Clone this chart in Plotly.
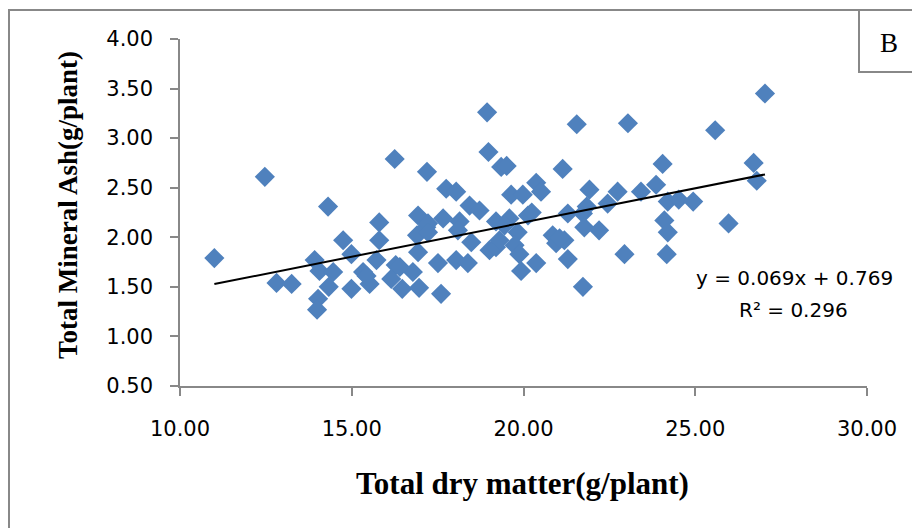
import numpy as np
import plotly.graph_objects as go

# ---- data ----
dry_matter = [
    11.00, 12.47, 12.81, 13.25, 13.92, 14.06, 14.46, 14.33, 14.02, 13.99,
    14.75, 14.99, 14.99, 15.80, 15.80, 15.72, 15.33, 15.52, 15.43, 16.28,
    16.15, 16.47, 16.78, 16.93, 16.90, 16.93, 16.96, 17.17, 14.31, 16.25,
    17.75, 18.04, 17.22, 17.66, 18.14, 18.43, 18.72, 17.22, 16.40, 17.60,
    17.51, 18.04, 18.38, 18.09, 18.48, 19.01, 19.20, 19.20, 19.59, 19.64,
    19.98, 20.37, 20.51, 20.13, 19.83, 19.74, 19.88, 19.93, 20.37, 19.30,
    20.85, 20.95, 21.19, 21.29, 21.29, 21.73, 21.77, 22.20, 21.92, 22.45,
    22.74, 23.42, 22.94, 21.73, 18.94, 21.55, 23.04, 18.98, 19.35, 19.51,
    21.14, 17.19, 27.03, 25.58, 24.05, 26.70, 26.79, 23.86, 24.20, 24.52,
    24.94, 24.10, 24.20, 25.97, 24.17, 19.45, 20.24, 21.05, 21.84,
]
mineral_ash = [
    1.79, 2.61, 1.54, 1.53, 1.77, 1.66, 1.65, 1.50, 1.38, 1.27,
    1.97, 1.83, 1.48, 2.15, 1.97, 1.77, 1.65, 1.53, 1.61, 1.72,
    1.58, 1.48, 1.65, 1.85, 2.02, 2.22, 1.49, 2.10, 2.31, 2.79,
    2.49, 2.46, 2.14, 2.19, 2.16, 2.32, 2.27, 2.05, 1.70, 1.43,
    1.74, 1.77, 1.74, 2.07, 1.95, 1.87, 1.90, 2.16, 2.19, 2.43,
    2.43, 2.55, 2.46, 2.22, 2.05, 1.92, 1.83, 1.66, 1.74, 1.97,
    2.02, 1.94, 1.97, 1.78, 2.24, 2.24, 2.10, 2.07, 2.48, 2.34,
    2.46, 2.46, 1.83, 1.50, 3.26, 3.14, 3.15, 2.86, 2.71, 2.72,
    2.69, 2.66, 3.45, 3.08, 2.74, 2.75, 2.57, 2.53, 2.36, 2.38,
    2.36, 2.17, 2.05, 2.14, 1.83, 2.12, 2.25, 1.99, 2.31,
]
slope = 0.069
intercept = 0.769
r_squared = 0.296

x_ticks = [10, 15, 20, 25, 30]
y_ticks = [0.5, 1.0, 1.5, 2.0, 2.5, 3.0, 3.5, 4.0]

x_title = "Total dry matter(g/plant)"
y_title = "Total Mineral Ash(g/plant)"
panel_label = "B"

# ---- figure ----
blue = "#4F81BD"
gray = "#888888"
tick_font = dict(family="DejaVu Sans", size=21, color="black")

trend_x = np.array([min(dry_matter), max(dry_matter)])
trend_y = slope * trend_x + intercept

fig = go.Figure()
fig.add_trace(go.Scatter(
    x=dry_matter, y=mineral_ash, mode="markers",
    marker=dict(symbol="diamond", size=15.5, color=blue, line=dict(width=0)),
    showlegend=False, hoverinfo="x+y",
))
fig.add_trace(go.Scatter(
    x=trend_x, y=trend_y, mode="lines",
    line=dict(color="black", width=2),
    showlegend=False, hoverinfo="skip",
))

W, H = 912, 528
L, R, T, B = 180, 45, 39, 142
pw, ph = W - L - R, H - T - B

def px(xp):
    return (xp - L) / pw

def py(yp):
    return (H - B - yp) / ph

fig.update_layout(
    width=W, height=H,
    margin=dict(l=L, r=R, t=T, b=B, pad=0),
    paper_bgcolor="white", plot_bgcolor="white",
    xaxis=dict(
        range=[10, 30], tickvals=x_ticks,
        ticktext=[f"{v:.2f}" for v in x_ticks],
        showline=True, linecolor=gray, linewidth=1.5,
        ticks="outside", ticklen=8, tickcolor=gray, tickwidth=1.5,
        showgrid=False, zeroline=False, tickfont=tick_font,
        ticklabelstandoff=15,
    ),
    yaxis=dict(
        range=[0.5, 4.0], tickvals=y_ticks,
        ticktext=[f"{v:.2f}" for v in y_ticks],
        showline=True, linecolor=gray, linewidth=1.5,
        ticks="outside", ticklen=8, tickcolor=gray, tickwidth=1.5,
        showgrid=False, zeroline=False, tickfont=tick_font,
        ticklabelstandoff=13,
    ),
    shapes=[
        dict(type="rect", xref="paper", yref="paper",
             x0=px(9), x1=px(915), y0=py(531), y1=py(10),
             line=dict(color=gray, width=2), fillcolor="rgba(0,0,0,0)",
             layer="below"),
        dict(type="rect", xref="paper", yref="paper",
             x0=px(859), x1=px(915), y0=py(72), y1=py(10),
             line=dict(color=gray, width=2), fillcolor="white",
             layer="above"),
    ],
    annotations=[
        dict(text=panel_label, xref="paper", yref="paper",
             x=px(889), y=py(43), xanchor="center", yanchor="middle",
             showarrow=False,
             font=dict(family="Liberation Serif", size=27, color="black")),
        dict(text=f"<b>{x_title}</b>", xref="paper", yref="paper",
             x=px(522), y=py(483), xanchor="center", yanchor="middle",
             showarrow=False,
             font=dict(family="Liberation Serif", size=31, color="black")),
        dict(text=f"<b>{y_title}</b>", xref="paper", yref="paper",
             x=px(68), y=py(205), xanchor="center", yanchor="middle",
             textangle=-90, showarrow=False,
             font=dict(family="Liberation Serif", size=27, color="black")),
        dict(text=f"y = {slope:.3f}x + {intercept:.3f}", xref="paper", yref="paper",
             x=px(794), y=py(278), xanchor="center", yanchor="middle",
             showarrow=False,
             font=dict(family="DejaVu Sans", size=20, color="black")),
        dict(text=f"R² = {r_squared:.3f}", xref="paper", yref="paper",
             x=px(793), y=py(310), xanchor="center", yanchor="middle",
             showarrow=False,
             font=dict(family="DejaVu Sans", size=20, color="black")),
    ],
)

fig.write_html("out.html")
